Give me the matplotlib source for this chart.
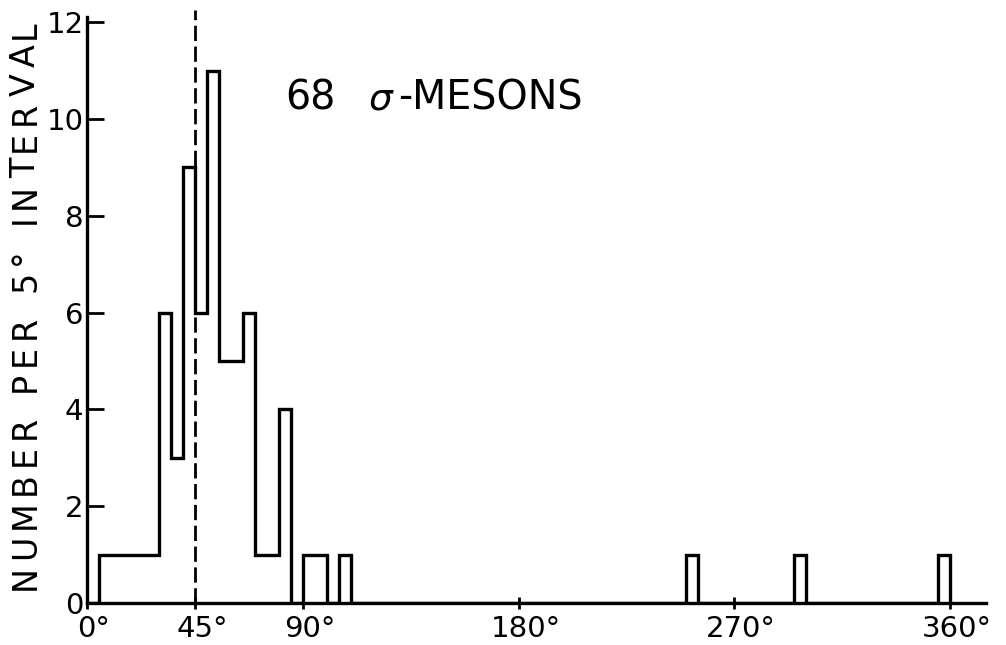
import numpy as np
import matplotlib
matplotlib.use("Agg")
import matplotlib.pyplot as plt
from matplotlib.transforms import ScaledTranslation
from matplotlib.font_manager import FontProperties

# ---- data ----
bin_width = 5
bin_lefts = [5, 10, 15, 20, 25, 30, 35, 40, 45, 50, 55, 60, 65, 70, 75, 80,
             90, 95, 105, 250, 295, 355]
bin_counts = [1, 1, 1, 1, 1, 6, 3, 9, 6, 11, 5, 5, 6, 1, 1, 4,
              1, 1, 1, 1, 1, 1]
x_ticks = [0, 45, 90, 180, 270, 360]
x_tick_labels = ["0°", "45°", "90°", "180°", "270°", "360°"]
y_ticks = [0, 2, 4, 6, 8, 10, 12]
y_tick_labels = ["0", "2", "4", "6", "8", "10", "12"]
mean_angle = 45
title_number = "68"
title_symbol = r"$\sigma$"
title_word = "-MESONS"
y_label = "NUMBER PER 5° INTERVAL"

# full histogram table built from the lists above
edges = np.arange(0, 360 + bin_width, bin_width)
counts = np.zeros(len(edges) - 1)
for left, c in zip(bin_lefts, bin_counts):
    counts[int(left // bin_width)] = c

plt.rcParams['font.family'] = ['DejaVu Sans']

W, H = 1006, 645
fig = plt.figure(figsize=(W / 100, H / 100), dpi=100)
ax = fig.add_axes([87 / W, 42 / H, 899 / W, 585.6 / H])

lw = 2.4
ax.stairs(counts, edges, color="black", linewidth=lw, baseline=0)
ax.plot([mean_angle, mean_angle], [0, 12.25], color="black", linewidth=2.0,
        linestyle=(0, (5.5, 2.0)), clip_on=False)

ax.set_xlim(0, 375)
ax.set_ylim(0, 12.1)

for s in ["top", "right"]:
    ax.spines[s].set_visible(False)
for s in ["left", "bottom"]:
    ax.spines[s].set_linewidth(lw)

ax.set_xticks(x_ticks)
ax.set_xticklabels(x_tick_labels)
ax.set_yticks(y_ticks)
ax.set_yticklabels(y_tick_labels)

ax.tick_params(axis="x", direction="inout", length=9, width=2, pad=4,
               labelsize=21)
ax.tick_params(axis="y", direction="in", length=12, width=2, pad=2.5,
               labelsize=21)

# centre digits (not the degree sign) on the ticks
for lab in ax.get_xticklabels():
    lab.set_transform(lab.get_transform() +
                      ScaledTranslation(0.07, 0, fig.dpi_scale_trans))

# ---- y label: widely spaced lettering, placed character by character ----
renderer = fig.canvas.get_renderer()
lab_size = 24
prop = FontProperties(family="DejaVu Sans", size=lab_size)
words = y_label.split(" ")
char_w = [[renderer.get_text_width_height_descent(ch, prop, ismath=False)[0]
           for ch in wd] for wd in words]
label_bottom, label_top = 590, 20          # pixel rows (from top)
word_gap = 24
n_intra = sum(len(wd) - 1 for wd in words)
total_chars = sum(sum(w) for w in char_w)
track = ((label_bottom - label_top) - total_chars
         - word_gap * (len(words) - 1)) / n_intra
ypos = label_bottom
baseline_x = 35
for wi, wd in enumerate(words):
    for ci, ch in enumerate(wd):
        fig.text(baseline_x / W, 1 - ypos / H, ch, fontproperties=prop,
                 rotation=90, rotation_mode="anchor", ha="left",
                 va="baseline")
        ypos -= char_w[wi][ci]
        if ci < len(wd) - 1:
            ypos -= track
    ypos -= word_gap

# ---- title ----
title_base = 1 - 110 / H
fig.text(285 / W, title_base, title_number, fontsize=28.5, ha="left",
         va="baseline")
fig.text(368 / W, title_base, title_symbol, fontsize=27, ha="left",
         va="baseline")
fig.text(398 / W, title_base, title_word, fontsize=28.5, ha="left",
         va="baseline")

fig.savefig("out.png", dpi=100, facecolor="white")
